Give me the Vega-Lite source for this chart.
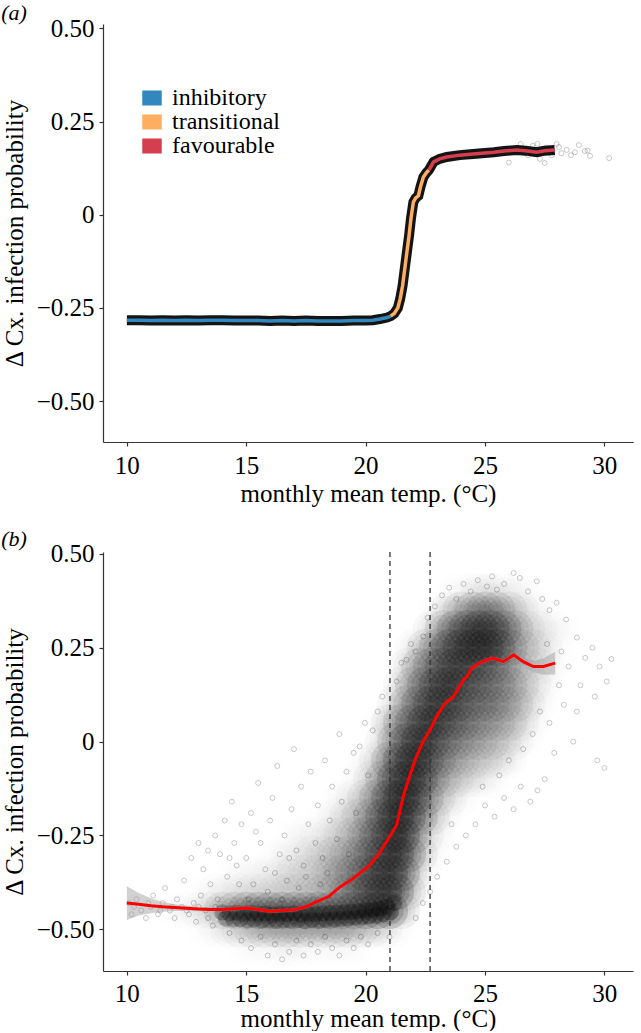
{
"$schema": "https://vega.github.io/schema/vega-lite/v6.json",
"padding": {"left": 1, "top": 2, "right": 4, "bottom": 0},
"spacing": 21,
"config": {
  "font": "Liberation Serif",
  "view": {"stroke": null},
  "axis": {"grid": false, "domainColor": "#333", "tickColor": "#333", "domainWidth": 1.2, "tickWidth": 1.2, "tickSize": 4, "labelColor": "#000", "titleColor": "#000", "labelFontSize": 25, "titleFontSize": 25, "titleFontWeight": "normal", "labelFont": "Liberation Serif", "titleFont": "Liberation Serif"},
  "title": {"font": "Liberation Serif"}
},
"datasets": {
  "lineA": [
    {"t":10.0,"v":-0.283,"phase":"inhibitory"},{"t":10.5,"v":-0.283,"phase":"inhibitory"},{"t":11.0,"v":-0.284,"phase":"inhibitory"},{"t":11.5,"v":-0.283,"phase":"inhibitory"},{"t":12.0,"v":-0.284,"phase":"inhibitory"},{"t":12.5,"v":-0.283,"phase":"inhibitory"},{"t":13.0,"v":-0.284,"phase":"inhibitory"},{"t":13.5,"v":-0.283,"phase":"inhibitory"},{"t":14.0,"v":-0.283,"phase":"inhibitory"},{"t":14.5,"v":-0.284,"phase":"inhibitory"},{"t":15.0,"v":-0.284,"phase":"inhibitory"},{"t":15.5,"v":-0.284,"phase":"inhibitory"},{"t":16.0,"v":-0.285,"phase":"inhibitory"},{"t":16.5,"v":-0.284,"phase":"inhibitory"},{"t":17.0,"v":-0.285,"phase":"inhibitory"},{"t":17.5,"v":-0.284,"phase":"inhibitory"},{"t":18.0,"v":-0.285,"phase":"inhibitory"},{"t":18.5,"v":-0.285,"phase":"inhibitory"},{"t":19.0,"v":-0.285,"phase":"inhibitory"},{"t":19.5,"v":-0.284,"phase":"inhibitory"},{"t":20.0,"v":-0.284,"phase":"inhibitory"},{"t":20.3,"v":-0.283,"phase":"inhibitory"},{"t":20.6,"v":-0.28,"phase":"inhibitory"},{"t":20.9,"v":-0.276,"phase":"inhibitory"},{"t":21.05,"v":-0.272,"phase":"inhibitory"},
    {"t":21.05,"v":-0.272,"phase":"transitional"},{"t":21.2,"v":-0.265,"phase":"transitional"},{"t":21.35,"v":-0.25,"phase":"transitional"},{"t":21.45,"v":-0.225,"phase":"transitional"},{"t":21.55,"v":-0.19,"phase":"transitional"},{"t":21.65,"v":-0.14,"phase":"transitional"},{"t":21.75,"v":-0.09,"phase":"transitional"},{"t":21.82,"v":-0.056,"phase":"transitional"},{"t":21.9,"v":-0.01,"phase":"transitional"},{"t":22.0,"v":0.034,"phase":"transitional"},{"t":22.1,"v":0.045,"phase":"transitional"},{"t":22.21,"v":0.051,"phase":"transitional"},{"t":22.3,"v":0.075,"phase":"transitional"},{"t":22.42,"v":0.101,"phase":"transitional"},{"t":22.55,"v":0.113,"phase":"transitional"},{"t":22.65,"v":0.12,"phase":"transitional"},
    {"t":22.65,"v":0.12,"phase":"favourable"},{"t":22.85,"v":0.142,"phase":"favourable"},{"t":23.1,"v":0.15,"phase":"favourable"},{"t":23.4,"v":0.155,"phase":"favourable"},{"t":23.94,"v":0.16,"phase":"favourable"},{"t":24.5,"v":0.163,"phase":"favourable"},{"t":25.0,"v":0.166,"phase":"favourable"},{"t":25.37,"v":0.168,"phase":"favourable"},{"t":25.8,"v":0.171,"phase":"favourable"},{"t":26.33,"v":0.174,"phase":"favourable"},{"t":26.7,"v":0.172,"phase":"favourable"},{"t":27.17,"v":0.168,"phase":"favourable"},{"t":27.5,"v":0.172,"phase":"favourable"},{"t":27.92,"v":0.174,"phase":"favourable"}
  ],
  "ptsA": [
    {"t":26.8,"v":0.16},{"t":27.0,"v":0.185},{"t":27.3,"v":0.15},{"t":27.5,"v":0.139},{"t":27.6,"v":0.18},{"t":27.8,"v":0.16},{"t":28.0,"v":0.19},{"t":28.1,"v":0.182},{"t":28.2,"v":0.165},{"t":28.42,"v":0.174},{"t":28.6,"v":0.16},{"t":28.77,"v":0.168},{"t":28.93,"v":0.187},{"t":29.18,"v":0.171},{"t":29.4,"v":0.158},{"t":29.3,"v":0.172},{"t":30.2,"v":0.152},{"t":27.2,"v":0.19},{"t":26.5,"v":0.19},{"t":26.0,"v":0.14}
  ],
  "cells": [
    {"t":23.75,"v":0.40,"w":0.1},{"t":24.25,"v":0.40,"w":0.15},{"t":24.75,"v":0.40,"w":0.2},{"t":25.25,"v":0.40,"w":0.2},{"t":25.75,"v":0.40,"w":0.18},{"t":26.25,"v":0.40,"w":0.12},{"t":26.75,"v":0.40,"w":0.06},
    {"t":23.0,"v":0.35,"w":0.15},{"t":23.5,"v":0.35,"w":0.3},{"t":24.0,"v":0.35,"w":0.45},{"t":24.5,"v":0.35,"w":0.55},{"t":25.0,"v":0.35,"w":0.6},{"t":25.5,"v":0.35,"w":0.55},{"t":26.0,"v":0.35,"w":0.4},{"t":26.5,"v":0.35,"w":0.25},{"t":27.0,"v":0.35,"w":0.15},{"t":27.5,"v":0.35,"w":0.08},
    {"t":22.75,"v":0.30,"w":0.3},{"t":23.25,"v":0.30,"w":0.5},{"t":23.75,"v":0.30,"w":0.68},{"t":24.25,"v":0.30,"w":0.8},{"t":24.75,"v":0.30,"w":0.88},{"t":25.25,"v":0.30,"w":0.85},{"t":25.75,"v":0.30,"w":0.7},{"t":26.25,"v":0.30,"w":0.5},{"t":26.75,"v":0.30,"w":0.32},{"t":27.25,"v":0.30,"w":0.2},{"t":27.75,"v":0.30,"w":0.12},{"t":28.25,"v":0.30,"w":0.06},
    {"t":22.0,"v":0.25,"w":0.2},{"t":22.5,"v":0.25,"w":0.4},{"t":23.0,"v":0.25,"w":0.6},{"t":23.5,"v":0.25,"w":0.75},{"t":24.0,"v":0.25,"w":0.85},{"t":24.5,"v":0.25,"w":0.9},{"t":25.0,"v":0.25,"w":0.9},{"t":25.5,"v":0.25,"w":0.8},{"t":26.0,"v":0.25,"w":0.6},{"t":26.5,"v":0.25,"w":0.4},{"t":27.0,"v":0.25,"w":0.3},{"t":27.5,"v":0.25,"w":0.2},{"t":28.0,"v":0.25,"w":0.1},
    {"t":21.75,"v":0.20,"w":0.3},{"t":22.25,"v":0.20,"w":0.48},{"t":22.75,"v":0.20,"w":0.62},{"t":23.25,"v":0.20,"w":0.75},{"t":23.75,"v":0.20,"w":0.8},{"t":24.25,"v":0.20,"w":0.78},{"t":24.75,"v":0.20,"w":0.72},{"t":25.25,"v":0.20,"w":0.65},{"t":25.75,"v":0.20,"w":0.55},{"t":26.25,"v":0.20,"w":0.42},{"t":26.75,"v":0.20,"w":0.3},{"t":27.25,"v":0.20,"w":0.2},{"t":27.75,"v":0.20,"w":0.12},
    {"t":21.5,"v":0.15,"w":0.3},{"t":22.0,"v":0.15,"w":0.5},{"t":22.5,"v":0.15,"w":0.65},{"t":23.0,"v":0.15,"w":0.8},{"t":23.5,"v":0.15,"w":0.85},{"t":24.0,"v":0.15,"w":0.75},{"t":24.5,"v":0.15,"w":0.68},{"t":25.0,"v":0.15,"w":0.64},{"t":25.5,"v":0.15,"w":0.56},{"t":26.0,"v":0.15,"w":0.5},{"t":26.5,"v":0.15,"w":0.35},{"t":27.0,"v":0.15,"w":0.22},{"t":27.5,"v":0.15,"w":0.12},
    {"t":21.25,"v":0.10,"w":0.3},{"t":21.75,"v":0.10,"w":0.5},{"t":22.25,"v":0.10,"w":0.68},{"t":22.75,"v":0.10,"w":0.8},{"t":23.25,"v":0.10,"w":0.82},{"t":23.75,"v":0.10,"w":0.75},{"t":24.25,"v":0.10,"w":0.66},{"t":24.75,"v":0.10,"w":0.6},{"t":25.25,"v":0.10,"w":0.58},{"t":25.75,"v":0.10,"w":0.5},{"t":26.25,"v":0.10,"w":0.4},{"t":26.75,"v":0.10,"w":0.28},{"t":27.25,"v":0.10,"w":0.14},
    {"t":20.5,"v":0.05,"w":0.1},{"t":21.0,"v":0.05,"w":0.35},{"t":21.5,"v":0.05,"w":0.55},{"t":22.0,"v":0.05,"w":0.7},{"t":22.5,"v":0.05,"w":0.85},{"t":23.0,"v":0.05,"w":0.8},{"t":23.5,"v":0.05,"w":0.72},{"t":24.0,"v":0.05,"w":0.64},{"t":24.5,"v":0.05,"w":0.55},{"t":25.0,"v":0.05,"w":0.5},{"t":25.5,"v":0.05,"w":0.45},{"t":26.0,"v":0.05,"w":0.38},{"t":26.5,"v":0.05,"w":0.26},{"t":27.0,"v":0.05,"w":0.12},
    {"t":20.75,"v":0.0,"w":0.3},{"t":21.25,"v":0.0,"w":0.55},{"t":21.75,"v":0.0,"w":0.78},{"t":22.25,"v":0.0,"w":0.85},{"t":22.75,"v":0.0,"w":0.78},{"t":23.25,"v":0.0,"w":0.65},{"t":23.75,"v":0.0,"w":0.56},{"t":24.25,"v":0.0,"w":0.5},{"t":24.75,"v":0.0,"w":0.42},{"t":25.25,"v":0.0,"w":0.38},{"t":25.75,"v":0.0,"w":0.3},{"t":26.25,"v":0.0,"w":0.22},{"t":26.75,"v":0.0,"w":0.1},
    {"t":20.0,"v":-0.05,"w":0.15},{"t":20.5,"v":-0.05,"w":0.3},{"t":21.0,"v":-0.05,"w":0.6},{"t":21.5,"v":-0.05,"w":0.8},{"t":22.0,"v":-0.05,"w":0.9},{"t":22.5,"v":-0.05,"w":0.8},{"t":23.0,"v":-0.05,"w":0.62},{"t":23.5,"v":-0.05,"w":0.5},{"t":24.0,"v":-0.05,"w":0.4},{"t":24.5,"v":-0.05,"w":0.33},{"t":25.0,"v":-0.05,"w":0.28},{"t":25.5,"v":-0.05,"w":0.22},{"t":26.0,"v":-0.05,"w":0.16},
    {"t":19.75,"v":-0.10,"w":0.15},{"t":20.25,"v":-0.10,"w":0.32},{"t":20.75,"v":-0.10,"w":0.55},{"t":21.25,"v":-0.10,"w":0.8},{"t":21.75,"v":-0.10,"w":0.9},{"t":22.25,"v":-0.10,"w":0.8},{"t":22.75,"v":-0.10,"w":0.6},{"t":23.25,"v":-0.10,"w":0.42},{"t":23.75,"v":-0.10,"w":0.32},{"t":24.25,"v":-0.10,"w":0.25},{"t":24.75,"v":-0.10,"w":0.18},{"t":25.25,"v":-0.10,"w":0.12},
    {"t":19.0,"v":-0.15,"w":0.12},{"t":19.5,"v":-0.15,"w":0.2},{"t":20.0,"v":-0.15,"w":0.35},{"t":20.5,"v":-0.15,"w":0.55},{"t":21.0,"v":-0.15,"w":0.8},{"t":21.5,"v":-0.15,"w":0.9},{"t":22.0,"v":-0.15,"w":0.85},{"t":22.5,"v":-0.15,"w":0.6},{"t":23.0,"v":-0.15,"w":0.35},{"t":23.5,"v":-0.15,"w":0.22},{"t":24.0,"v":-0.15,"w":0.14},
    {"t":18.25,"v":-0.20,"w":0.1},{"t":18.75,"v":-0.20,"w":0.18},{"t":19.25,"v":-0.20,"w":0.25},{"t":19.75,"v":-0.20,"w":0.38},{"t":20.25,"v":-0.20,"w":0.55},{"t":20.75,"v":-0.20,"w":0.75},{"t":21.25,"v":-0.20,"w":0.88},{"t":21.75,"v":-0.20,"w":0.85},{"t":22.25,"v":-0.20,"w":0.6},{"t":22.75,"v":-0.20,"w":0.35},{"t":23.25,"v":-0.20,"w":0.18},
    {"t":17.0,"v":-0.25,"w":0.08},{"t":17.5,"v":-0.25,"w":0.12},{"t":18.0,"v":-0.25,"w":0.15},{"t":18.5,"v":-0.25,"w":0.22},{"t":19.0,"v":-0.25,"w":0.3},{"t":19.5,"v":-0.25,"w":0.4},{"t":20.0,"v":-0.25,"w":0.55},{"t":20.5,"v":-0.25,"w":0.7},{"t":21.0,"v":-0.25,"w":0.85},{"t":21.5,"v":-0.25,"w":0.9},{"t":22.0,"v":-0.25,"w":0.6},{"t":22.5,"v":-0.25,"w":0.3},{"t":23.0,"v":-0.25,"w":0.12},
    {"t":16.25,"v":-0.30,"w":0.1},{"t":16.75,"v":-0.30,"w":0.13},{"t":17.25,"v":-0.30,"w":0.17},{"t":17.75,"v":-0.30,"w":0.22},{"t":18.25,"v":-0.30,"w":0.28},{"t":18.75,"v":-0.30,"w":0.35},{"t":19.25,"v":-0.30,"w":0.45},{"t":19.75,"v":-0.30,"w":0.55},{"t":20.25,"v":-0.30,"w":0.68},{"t":20.75,"v":-0.30,"w":0.8},{"t":21.25,"v":-0.30,"w":0.88},{"t":21.75,"v":-0.30,"w":0.7},{"t":22.25,"v":-0.30,"w":0.35},{"t":22.75,"v":-0.30,"w":0.12},
    {"t":14.5,"v":-0.35,"w":0.06},{"t":15.0,"v":-0.35,"w":0.1},{"t":15.5,"v":-0.35,"w":0.12},{"t":16.0,"v":-0.35,"w":0.15},{"t":16.5,"v":-0.35,"w":0.2},{"t":17.0,"v":-0.35,"w":0.22},{"t":17.5,"v":-0.35,"w":0.26},{"t":18.0,"v":-0.35,"w":0.3},{"t":18.5,"v":-0.35,"w":0.4},{"t":19.0,"v":-0.35,"w":0.48},{"t":19.5,"v":-0.35,"w":0.58},{"t":20.0,"v":-0.35,"w":0.7},{"t":20.5,"v":-0.35,"w":0.8},{"t":21.0,"v":-0.35,"w":0.85},{"t":21.5,"v":-0.35,"w":0.75},{"t":22.0,"v":-0.35,"w":0.35},{"t":22.5,"v":-0.35,"w":0.1},
    {"t":12.75,"v":-0.40,"w":0.05},{"t":13.25,"v":-0.40,"w":0.08},{"t":13.75,"v":-0.40,"w":0.12},{"t":14.25,"v":-0.40,"w":0.16},{"t":14.75,"v":-0.40,"w":0.2},{"t":15.25,"v":-0.40,"w":0.22},{"t":15.75,"v":-0.40,"w":0.24},{"t":16.25,"v":-0.40,"w":0.25},{"t":16.75,"v":-0.40,"w":0.28},{"t":17.25,"v":-0.40,"w":0.3},{"t":17.75,"v":-0.40,"w":0.33},{"t":18.25,"v":-0.40,"w":0.38},{"t":18.75,"v":-0.40,"w":0.45},{"t":19.25,"v":-0.40,"w":0.55},{"t":19.75,"v":-0.40,"w":0.65},{"t":20.25,"v":-0.40,"w":0.78},{"t":20.75,"v":-0.40,"w":0.85},{"t":21.25,"v":-0.40,"w":0.8},{"t":21.75,"v":-0.40,"w":0.45},{"t":22.25,"v":-0.40,"w":0.12},
    {"t":11.5,"v":-0.45,"w":0.05},{"t":12.0,"v":-0.45,"w":0.08},{"t":12.5,"v":-0.45,"w":0.12},{"t":13.0,"v":-0.45,"w":0.18},{"t":13.5,"v":-0.45,"w":0.3},{"t":14.0,"v":-0.45,"w":0.45},{"t":14.5,"v":-0.45,"w":0.55},{"t":15.0,"v":-0.45,"w":0.65},{"t":15.5,"v":-0.45,"w":0.7},{"t":16.0,"v":-0.45,"w":0.7},{"t":16.5,"v":-0.45,"w":0.7},{"t":17.0,"v":-0.45,"w":0.7},{"t":17.5,"v":-0.45,"w":0.7},{"t":18.0,"v":-0.45,"w":0.7},{"t":18.5,"v":-0.45,"w":0.7},{"t":19.0,"v":-0.45,"w":0.72},{"t":19.5,"v":-0.45,"w":0.75},{"t":20.0,"v":-0.45,"w":0.8},{"t":20.5,"v":-0.45,"w":0.85},{"t":21.0,"v":-0.45,"w":0.8},{"t":21.5,"v":-0.45,"w":0.4},{"t":22.0,"v":-0.45,"w":0.1},
    {"t":13.25,"v":-0.50,"w":0.08},{"t":13.75,"v":-0.50,"w":0.14},{"t":14.25,"v":-0.50,"w":0.22},{"t":14.75,"v":-0.50,"w":0.3},{"t":15.25,"v":-0.50,"w":0.36},{"t":15.75,"v":-0.50,"w":0.4},{"t":16.25,"v":-0.50,"w":0.42},{"t":16.75,"v":-0.50,"w":0.42},{"t":17.25,"v":-0.50,"w":0.42},{"t":17.75,"v":-0.50,"w":0.42},{"t":18.25,"v":-0.50,"w":0.42},{"t":18.75,"v":-0.50,"w":0.42},{"t":19.25,"v":-0.50,"w":0.4},{"t":19.75,"v":-0.50,"w":0.36},{"t":20.25,"v":-0.50,"w":0.3},{"t":20.75,"v":-0.50,"w":0.24},{"t":21.25,"v":-0.50,"w":0.14},
    {"t":15.0,"v":-0.55,"w":0.06},{"t":15.5,"v":-0.55,"w":0.08},{"t":16.0,"v":-0.55,"w":0.1},{"t":16.5,"v":-0.55,"w":0.12},{"t":17.0,"v":-0.55,"w":0.12},{"t":17.5,"v":-0.55,"w":0.1},{"t":18.0,"v":-0.55,"w":0.1},{"t":18.5,"v":-0.55,"w":0.1},{"t":19.0,"v":-0.55,"w":0.08},{"t":19.5,"v":-0.55,"w":0.06}
  ],
  "band": [
    {"t":14.0,"v":-0.455},{"t":14.3,"v":-0.458},{"t":14.6,"v":-0.456},{"t":14.9,"v":-0.459},{"t":15.2,"v":-0.457},{"t":15.5,"v":-0.46},{"t":15.8,"v":-0.458},{"t":16.1,"v":-0.461},{"t":16.4,"v":-0.459},{"t":16.7,"v":-0.46},{"t":17.0,"v":-0.458},{"t":17.3,"v":-0.461},{"t":17.6,"v":-0.459},{"t":17.9,"v":-0.46},{"t":18.2,"v":-0.458},{"t":18.5,"v":-0.457},{"t":18.8,"v":-0.456},{"t":19.1,"v":-0.455},{"t":19.4,"v":-0.453},{"t":19.7,"v":-0.452},{"t":20.0,"v":-0.45},{"t":20.3,"v":-0.448},{"t":20.6,"v":-0.445},{"t":20.9,"v":-0.44},{"t":21.2,"v":-0.43},
    {"t":14.15,"v":-0.472},{"t":14.45,"v":-0.474},{"t":14.75,"v":-0.473},{"t":15.05,"v":-0.476},{"t":15.35,"v":-0.474},{"t":15.65,"v":-0.477},{"t":15.95,"v":-0.475},{"t":16.25,"v":-0.478},{"t":16.55,"v":-0.476},{"t":16.85,"v":-0.477},{"t":17.15,"v":-0.475},{"t":17.45,"v":-0.478},{"t":17.75,"v":-0.476},{"t":18.05,"v":-0.477},{"t":18.35,"v":-0.475},{"t":18.65,"v":-0.474},{"t":18.95,"v":-0.473},{"t":19.25,"v":-0.471},{"t":19.55,"v":-0.47},{"t":19.85,"v":-0.468},{"t":20.15,"v":-0.466},{"t":20.45,"v":-0.463},{"t":20.75,"v":-0.46},{"t":21.05,"v":-0.455}
  ],
  "ptsB": [
    {"t":10.1,"v":-0.43},{"t":10.2,"v":-0.46},{"t":10.4,"v":-0.42},{"t":10.6,"v":-0.45},{"t":10.8,"v":-0.47},{"t":11.0,"v":-0.44},{"t":11.1,"v":-0.41},{"t":11.3,"v":-0.46},{"t":11.5,"v":-0.43},{"t":11.6,"v":-0.39},{"t":11.8,"v":-0.45},{"t":12.0,"v":-0.47},{"t":12.1,"v":-0.42},{"t":12.3,"v":-0.44},{"t":12.4,"v":-0.37},{"t":12.6,"v":-0.46},{"t":12.8,"v":-0.43},{"t":12.9,"v":-0.48},{"t":13.1,"v":-0.41},{"t":13.2,"v":-0.34},{"t":13.3,"v":-0.45},{"t":13.5,"v":-0.38},{"t":13.6,"v":-0.49},{"t":13.8,"v":-0.42},{"t":13.9,"v":-0.3},{"t":14.0,"v":-0.46},{"t":14.2,"v":-0.36},{"t":14.3,"v":-0.51},{"t":14.4,"v":-0.16},{"t":14.5,"v":-0.27},{"t":14.6,"v":-0.33},
    {"t":10.3,"v":-0.44},{"t":10.9,"v":-0.43},{"t":11.4,"v":-0.45},{"t":11.9,"v":-0.44},{"t":12.5,"v":-0.45},{"t":13.0,"v":-0.44},{"t":13.4,"v":-0.47},{"t":13.7,"v":-0.44},
    {"t":14.8,"v":-0.22},{"t":15.0,"v":-0.31},{"t":15.2,"v":-0.19},{"t":15.3,"v":-0.38},{"t":15.5,"v":-0.11},{"t":15.6,"v":-0.27},{"t":15.8,"v":-0.34},{"t":16.0,"v":-0.21},{"t":16.1,"v":-0.15},{"t":16.3,"v":-0.065},{"t":16.4,"v":-0.3},{"t":16.6,"v":-0.25},{"t":16.7,"v":-0.37},{"t":16.9,"v":-0.18},{"t":17.0,"v":-0.02},{"t":17.1,"v":-0.29},{"t":17.3,"v":-0.12},{"t":17.4,"v":-0.33},{"t":17.6,"v":-0.22},{"t":17.7,"v":-0.08},{"t":17.9,"v":-0.27},{"t":18.0,"v":-0.17},{"t":18.2,"v":-0.31},{"t":18.3,"v":-0.05},{"t":18.5,"v":-0.21},{"t":18.6,"v":-0.12},{"t":18.8,"v":-0.26},{"t":18.9,"v":0.02},{"t":19.0,"v":-0.16},{"t":19.2,"v":-0.08},{"t":19.3,"v":-0.3},{"t":19.5,"v":-0.03},{"t":19.6,"v":-0.19},{"t":19.75,"v":-0.013},{"t":19.97,"v":0.05},{"t":20.1,"v":-0.09},{"t":20.3,"v":0.03},{"t":20.5,"v":0.08},{"t":20.7,"v":0.12},
    {"t":13.4,"v":-0.29},{"t":13.7,"v":-0.25},{"t":14.1,"v":-0.21},{"t":14.3,"v":-0.31},{"t":14.7,"v":-0.38},{"t":15.1,"v":-0.42},{"t":15.4,"v":-0.24},{"t":15.9,"v":-0.4},{"t":16.2,"v":-0.35},{"t":16.5,"v":-0.42},{"t":16.8,"v":-0.31},{"t":17.2,"v":-0.39},{"t":17.5,"v":-0.36},{"t":17.8,"v":-0.42},{"t":18.1,"v":-0.38},{"t":18.4,"v":-0.35},{"t":12.7,"v":-0.31},{"t":13.0,"v":-0.27},
    {"t":14.8,"v":-0.53},{"t":15.2,"v":-0.55},{"t":15.6,"v":-0.52},{"t":15.9,"v":-0.57},{"t":16.2,"v":-0.54},{"t":16.5,"v":-0.58},{"t":16.8,"v":-0.56},{"t":17.1,"v":-0.53},{"t":17.4,"v":-0.57},{"t":17.7,"v":-0.54},{"t":18.0,"v":-0.56},{"t":18.3,"v":-0.52},{"t":18.6,"v":-0.55},{"t":18.9,"v":-0.57},{"t":19.2,"v":-0.53},{"t":19.5,"v":-0.55},{"t":19.8,"v":-0.52},{"t":20.1,"v":-0.54},{"t":20.5,"v":-0.51},{"t":21.0,"v":-0.52},
    {"t":21.3,"v":0.16},{"t":21.5,"v":0.21},{"t":21.72,"v":0.218},{"t":21.9,"v":0.26},{"t":22.1,"v":0.24},{"t":22.42,"v":0.28},{"t":22.6,"v":0.33},{"t":22.9,"v":0.36},{"t":23.2,"v":0.39},{"t":23.5,"v":0.41},{"t":23.8,"v":0.38},{"t":24.1,"v":0.42},{"t":24.4,"v":0.4},{"t":24.7,"v":0.43},{"t":25.08,"v":0.413},{"t":25.3,"v":0.44},{"t":25.5,"v":0.405},{"t":25.8,"v":0.42},{"t":26.2,"v":0.449},{"t":26.46,"v":0.436},{"t":26.8,"v":0.4},{"t":27.17,"v":0.427},{"t":27.4,"v":0.38},{"t":27.7,"v":0.35},{"t":28.0,"v":0.37},{"t":28.4,"v":0.325},{"t":28.85,"v":0.277},{"t":29.2,"v":0.223},{"t":29.5,"v":0.25},{"t":29.8,"v":0.2},{"t":30.1,"v":0.16},
    {"t":28.3,"v":0.098},{"t":28.85,"v":0.08},{"t":28.5,"v":0.2},{"t":28.2,"v":0.24},{"t":29.0,"v":0.15},{"t":29.6,"v":0.12},{"t":30.3,"v":0.22},{"t":30.0,"v":-0.07},{"t":29.7,"v":-0.05},{"t":28.7,"v":0.0},{"t":27.9,"v":-0.03},{"t":27.5,"v":-0.1},{"t":27.2,"v":-0.13},{"t":26.9,"v":-0.16},{"t":26.5,"v":-0.12},{"t":26.2,"v":-0.18},{"t":25.8,"v":-0.15},{"t":25.4,"v":-0.2},{"t":25.0,"v":-0.17},{"t":24.6,"v":-0.22},{"t":24.2,"v":-0.25},{"t":23.8,"v":-0.28},{"t":23.4,"v":-0.32},{"t":23.0,"v":-0.36},{"t":22.7,"v":-0.4},{"t":22.4,"v":-0.43},{"t":22.1,"v":-0.47},{"t":26.0,"v":-0.05},{"t":27.0,"v":0.02},{"t":27.7,"v":0.05},
    {"t":26.6,"v":-0.02},{"t":27.3,"v":0.08},{"t":25.6,"v":-0.09},{"t":24.9,"v":-0.12},{"t":23.6,"v":-0.22},{"t":28.1,"v":0.15},{"t":27.6,"v":0.26}
  ],
  "smooth": [
    {"t":10.0,"v":-0.43,"lo":-0.475,"hi":-0.385},{"t":10.5,"v":-0.433,"lo":-0.463,"hi":-0.403},{"t":11.0,"v":-0.437,"lo":-0.457,"hi":-0.417},{"t":11.5,"v":-0.44,"lo":-0.453,"hi":-0.427},{"t":12.0,"v":-0.442,"lo":-0.451,"hi":-0.433},{"t":12.5,"v":-0.444,"lo":-0.451,"hi":-0.437},{"t":13.0,"v":-0.446,"lo":-0.452,"hi":-0.44},{"t":13.5,"v":-0.447,"lo":-0.452,"hi":-0.442},{"t":14.0,"v":-0.447,"lo":-0.452,"hi":-0.442},{"t":14.5,"v":-0.445,"lo":-0.45,"hi":-0.44},{"t":15.0,"v":-0.443,"lo":-0.448,"hi":-0.438},{"t":15.5,"v":-0.447,"lo":-0.452,"hi":-0.442},{"t":16.0,"v":-0.452,"lo":-0.457,"hi":-0.447},{"t":16.5,"v":-0.45,"lo":-0.455,"hi":-0.445},{"t":17.0,"v":-0.448,"lo":-0.453,"hi":-0.443},{"t":17.5,"v":-0.44,"lo":-0.445,"hi":-0.435},{"t":18.0,"v":-0.425,"lo":-0.43,"hi":-0.42},{"t":18.44,"v":-0.413,"lo":-0.418,"hi":-0.408},{"t":18.93,"v":-0.387,"lo":-0.392,"hi":-0.382},{"t":19.49,"v":-0.364,"lo":-0.369,"hi":-0.359},{"t":20.18,"v":-0.329,"lo":-0.334,"hi":-0.324},{"t":20.6,"v":-0.295,"lo":-0.3,"hi":-0.29},{"t":20.96,"v":-0.258,"lo":-0.263,"hi":-0.253},{"t":21.3,"v":-0.222,"lo":-0.227,"hi":-0.217},{"t":21.6,"v":-0.14,"lo":-0.145,"hi":-0.135},{"t":22.07,"v":-0.049,"lo":-0.054,"hi":-0.044},{"t":22.4,"v":0.0,"lo":-0.005,"hi":0.005},{"t":22.7,"v":0.031,"lo":0.026,"hi":0.036},{"t":23.0,"v":0.07,"lo":0.065,"hi":0.075},{"t":23.33,"v":0.102,"lo":0.097,"hi":0.107},{"t":23.68,"v":0.12,"lo":0.115,"hi":0.125},{"t":24.1,"v":0.165,"lo":0.16,"hi":0.17},{"t":24.24,"v":0.173,"lo":0.168,"hi":0.178},{"t":24.45,"v":0.196,"lo":0.191,"hi":0.201},{"t":24.8,"v":0.21,"lo":0.205,"hi":0.215},{"t":25.07,"v":0.218,"lo":0.213,"hi":0.223},{"t":25.36,"v":0.222,"lo":0.217,"hi":0.227},{"t":25.77,"v":0.213,"lo":0.207,"hi":0.219},{"t":26.2,"v":0.231,"lo":0.223,"hi":0.239},{"t":26.6,"v":0.213,"lo":0.202,"hi":0.224},{"t":27.03,"v":0.2,"lo":0.185,"hi":0.215},{"t":27.45,"v":0.2,"lo":0.178,"hi":0.222},{"t":27.94,"v":0.209,"lo":0.179,"hi":0.239}
  ],
  "thresholds": [{"t":21.02},{"t":22.7}]
},
"vconcat": [
  {
    "title": {"text": "(a)", "anchor": "start", "frame": "bounds", "fontStyle": "italic", "fontSize": 22, "fontWeight": "normal", "offset": -9, "dx": -1},
    "width": 530, "height": 418,
    "encoding": {
      "x": {"field": "t", "type": "quantitative", "scale": {"domain": [9.0, 31.2], "nice": false, "zero": false}, "axis": {"values": [10, 15, 20, 25, 30], "title": "monthly mean temp. (°C)", "labelPadding": 7, "titlePadding": 3}},
      "y": {"field": "v", "type": "quantitative", "scale": {"domain": [-0.61, 0.512], "nice": false, "zero": false}, "axis": {"values": [-0.5, -0.25, 0, 0.25, 0.5], "labelExpr": "datum.value == 0 ? '0' : format(datum.value, '.2f')", "title": "Δ Cx. infection probability", "labelPadding": 5, "titlePadding": 9}}
    },
    "layer": [
      {"data": {"name": "lineA"}, "mark": {"type": "line", "color": "#000", "strokeWidth": 10, "opacity": 0.92}, "encoding": {"order": {"field": "t", "type": "quantitative"}}},
      {"data": {"name": "ptsA"}, "mark": {"type": "point", "shape": "circle", "size": 25, "color": "#000", "strokeWidth": 0.7, "opacity": 0.3}},
      {"data": {"name": "lineA"}, "mark": {"type": "line", "strokeWidth": 3.5}, "encoding": {
        "color": {"field": "phase", "type": "nominal", "scale": {"domain": ["inhibitory", "transitional", "favourable"], "range": ["#3288bd", "#fdae61", "#d53e4f"]},
          "legend": {"orient": "none", "legendX": 37, "legendY": 62, "title": null, "symbolType": "M-1.3,-1H1.3V1H-1.3Z", "symbolSize": 225, "symbolStrokeWidth": 0, "symbolOpacity": 1, "labelFontSize": 24, "labelFont": "Liberation Serif", "labelColor": "#000", "labelOffset": 8, "rowPadding": -3,
            "encode": {"symbols": {"update": {"fill": {"scale": "color", "field": "value"}, "fillOpacity": {"value": 1}, "strokeWidth": {"value": 0}}}}}}
      }}
    ]
  },
  {
    "title": {"text": "(b)", "anchor": "start", "frame": "bounds", "fontStyle": "italic", "fontSize": 22, "fontWeight": "normal", "offset": -9, "dx": -1},
    "width": 530, "height": 419,
    "encoding": {
      "x": {"field": "t", "type": "quantitative", "scale": {"domain": [9.0, 31.2], "nice": false, "zero": false}, "axis": {"values": [10, 15, 20, 25, 30], "title": "monthly mean temp. (°C)", "labelPadding": 6, "titlePadding": 0}},
      "y": {"field": "v", "type": "quantitative", "scale": {"domain": [-0.611, 0.505], "nice": false, "zero": false}, "axis": {"values": [-0.5, -0.25, 0, 0.25, 0.5], "labelExpr": "datum.value == 0 ? '0' : format(datum.value, '.2f')", "title": "Δ Cx. infection probability", "labelPadding": 5, "titlePadding": 9}}
    },
    "layer": [
      {"data": {"name": "cells"}, "mark": {"type": "point", "shape": "circle", "filled": true, "size": 1400, "color": "#000", "strokeWidth": 0}, "encoding": {"opacity": {"field": "w", "type": "quantitative", "scale": {"type": "pow", "exponent": 1.6, "domain": [0, 1], "range": [0, 0.2]}, "legend": null}}},
      {"data": {"name": "cells"}, "mark": {"type": "point", "shape": "circle", "filled": true, "size": 800, "color": "#000", "strokeWidth": 0}, "encoding": {"opacity": {"field": "w", "type": "quantitative", "scale": {"type": "pow", "exponent": 1.6, "domain": [0, 1], "range": [0, 0.2]}, "legend": null}}},
      {"data": {"name": "cells"}, "mark": {"type": "point", "shape": "circle", "filled": true, "size": 400, "color": "#000", "strokeWidth": 0}, "encoding": {"opacity": {"field": "w", "type": "quantitative", "scale": {"type": "pow", "exponent": 1.6, "domain": [0, 1], "range": [0, 0.2]}, "legend": null}}},
      {"data": {"name": "cells"}, "mark": {"type": "point", "shape": "circle", "filled": true, "size": 150, "color": "#000", "strokeWidth": 0}, "encoding": {"opacity": {"field": "w", "type": "quantitative", "scale": {"type": "pow", "exponent": 1.6, "domain": [0, 1], "range": [0, 0.2]}, "legend": null}}},
      {"data": {"name": "band"}, "mark": {"type": "point", "shape": "circle", "filled": true, "size": 260, "color": "#000", "strokeWidth": 0, "opacity": 0.22}},
      {"data": {"name": "ptsB"}, "mark": {"type": "point", "shape": "circle", "size": 25, "color": "#000", "strokeWidth": 0.7, "opacity": 0.3}},
      {"data": {"name": "thresholds"}, "mark": {"type": "rule", "color": "#333", "strokeWidth": 1.3, "strokeDash": [5, 4]}, "encoding": {"x": {"field": "t", "type": "quantitative"}, "y": null}},
      {"data": {"name": "smooth"}, "mark": {"type": "area", "color": "#999", "opacity": 0.45}, "encoding": {"y": {"field": "lo", "type": "quantitative"}, "y2": {"field": "hi"}}},
      {"data": {"name": "smooth"}, "mark": {"type": "line", "color": "#ff0000", "strokeWidth": 3}}
    ]
  }
]
}
